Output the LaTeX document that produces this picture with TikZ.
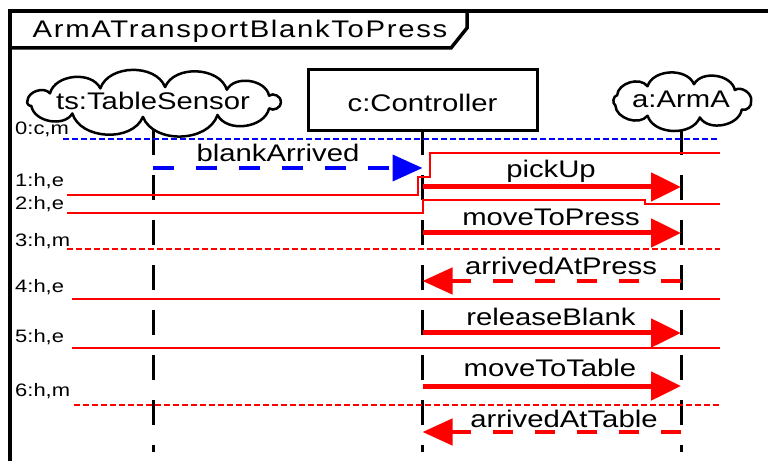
\documentclass[tikz,border=0pt]{standalone}
\usepackage{fontspec}
\setmainfont{Liberation Sans}[FakeStretch=1.22]
\usetikzlibrary{arrows.meta,calc}

\tikzset{
  msglabel/.style={font=\fontsize{24bp}{28bp}\selectfont, inner sep=0pt, anchor=base},
  ticklabel/.style={font=\fontsize{18bp}{21bp}\selectfont, inner sep=0pt, anchor=base west},
  objbox/.style={draw, line width=3bp, font=\fontsize{24bp}{28bp}\selectfont, inner sep=0pt},
  objtext/.style={font=\fontsize{24bp}{28bp}\selectfont, inner sep=0pt,
    text height=13bp, text depth=0bp},
  cloudline/.style={line width=2.5bp, line join=round},
  lifeline/.style={line width=3bp, dash pattern=on 25bp off 20bp},
  callmsg/.style={red, line width=5bp, -{Triangle[length=30bp,width=28bp]}},
  replymsg/.style={red, line width=4.5bp, dash pattern=on 20bp off 22bp,
    -{Triangle[length=30bp,width=26bp]}},
  signalmsg/.style={blue, line width=4bp, dash pattern=on 21bp off 22bp,
    -{Triangle[length=30bp,width=26bp]}},
  stepline/.style={red, line width=1.5bp},
  stepdashed/.style={red, line width=1.5bp, dash pattern=on 6bp off 3bp},
  syncline/.style={blue, line width=1.5bp, dash pattern=on 6bp off 3bp},
}

% puffed outline round a node: #1 node, #2/#3 radii, #4 shift, #5 puff end angles
\newcommand{\puffcloud}[5]{%
  \draw[cloudline] ($(#1.center)+(#4)+(0:#2 and #3)$)
    \foreach \ang in {#5} { to[bend left=70] ($(#1.center)+(#4)+(\ang:#2 and #3)$) };
}

\begin{document}
\begin{tikzpicture}[x=1bp, y=-1bp]
\useasboundingbox (0,0) rectangle (768,461);

% frame and name tab
\draw[line width=4bp] (10,461) -- (10,11) -- (768,11);
\draw[line width=3.5bp, line join=miter] (10,48) -- (451,48) -- (467,28) -- (467,11);
\node[msglabel, font=\fontsize{24bp}{28bp}\selectfont\addfontfeatures{LetterSpace=7}]
  (title) at (240,38) {ArmATransportBlankToPress};

% participants
\node[objtext] (ts) at (153,103.5) {ts:TableSensor};
\puffcloud{ts}{127}{15}{1,-1.5}{25,60,95,130,165,185,215,245,275,305,335,360}
\node[objbox, minimum width=229bp, minimum height=61bp, text height=23bp, text depth=0bp]
  (c) at (422.5,100.5) {c:Controller};
\node[objtext] (a) at (681,101) {a:ArmA};
\puffcloud{a}{69}{17}{1,0}{30,75,120,165,200,240,280,320,360}

% lifelines
\draw[lifeline] (ts |- 0,130) -- (ts |- 0,452);
\draw[lifeline] (c |- 0,130) -- (c |- 0,452);
\draw[lifeline] (a |- 0,130) -- (a |- 0,452);

% time marks
\draw[syncline] (63,139) -- (720,139);
\node[ticklabel] (t0) at (15,135) {0:c,m};
\draw[stepline] (720,153) -- (430,153) -- (430,177) -- (418,177) -- (418,195) -- (67,195);
\node[ticklabel] (t1) at (15,187) {1:h,e};
\draw[stepline] (67,213) -- (423,213) -- (423,200) -- (645,200) -- (645,204) -- (720,204);
\node[ticklabel] (t2) at (15,210) {2:h,e};
\draw[stepdashed] (67,249) -- (720,249);
\node[ticklabel] (t3) at (15,247) {3:h,m};
\draw[stepline] (72,299) -- (720,299);
\node[ticklabel] (t4) at (15,293) {4:h,e};
\draw[stepline] (72,348) -- (720,348);
\node[ticklabel] (t5) at (15,343) {5:h,e};
\draw[stepdashed] (74,405) -- (720,405);
\node[ticklabel] (t6) at (15,396) {6:h,m};

% messages
\draw[signalmsg] (ts |- 0,168) -- (c |- 0,168);
\node[msglabel] (m1) at (278,162) {blankArrived};
\draw[callmsg] (c |- 0,187) -- (a |- 0,187);
\node[msglabel] (m2) at (551,178) {pickUp};
\draw[callmsg] (c |- 0,233) -- (a |- 0,233);
\node[msglabel] (m3) at (551,226) {moveToPress};
\draw[replymsg] (a |- 0,281) -- (c |- 0,281);
\node[msglabel] (m4) at (561,275) {arrivedAtPress};
\draw[callmsg] (c |- 0,333) -- (a |- 0,333);
\node[msglabel] (m5) at (551,326) {releaseBlank};
\draw[callmsg] (c |- 0,386) -- (a |- 0,386);
\node[msglabel] (m6) at (550,377) {moveToTable};
\draw[replymsg] (a |- 0,432) -- (c |- 0,432);
\node[msglabel] (m7) at (564,427) {arrivedAtTable};
\end{tikzpicture}
\end{document}
